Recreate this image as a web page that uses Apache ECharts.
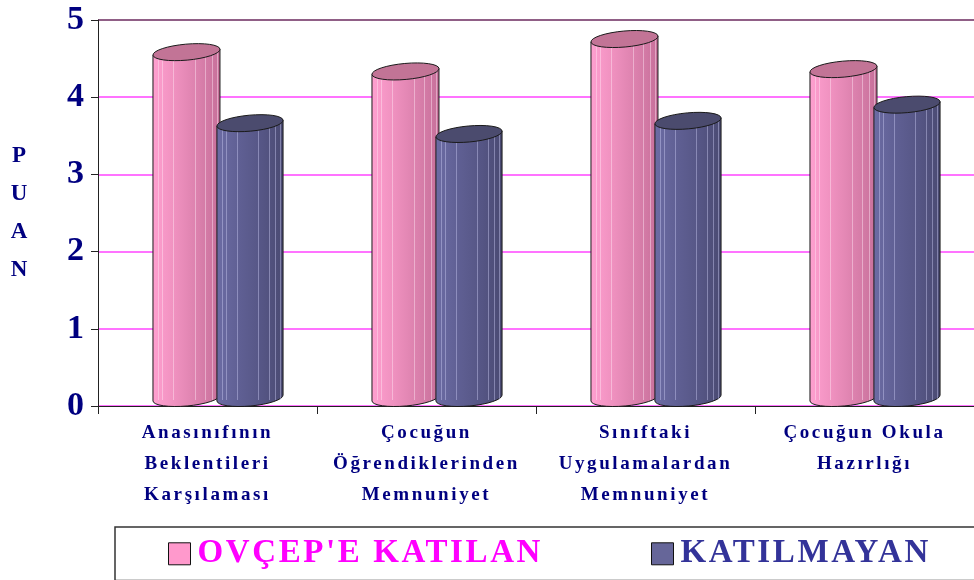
<!DOCTYPE html>
<html><head><meta charset="utf-8">
<script src="https://cdn.jsdelivr.net/npm/echarts@6/dist/echarts.min.js"></script>
<style>html,body{margin:0;padding:0;background:#fff}#c{width:974px;height:580px}</style>
</head><body><div id="c"></div>
<script>
var categories = ['Anasınıfının\nBeklentileri\nKarşılaması', 'Çocuğun\nÖğrendiklerinden\nMemnuniyet', 'Sınıftaki\nUygulamalardan\nMemnuniyet', 'Çocuğun Okula\nHazırlığı'];
var seriesNames = ["OVÇEP'E KATILAN", 'KATILMAYAN'];
var katilan = [4.48, 4.23, 4.65, 4.26];
var katilmayan = [3.56, 3.42, 3.59, 3.80];
var yTicks = [0, 1, 2, 3, 4, 5];

// widen letter spacing of the category and legend texts (the reference uses spaced type)
(function () {
  var proto = window.CanvasRenderingContext2D && CanvasRenderingContext2D.prototype;
  if (!proto) return;
  var desc = Object.getOwnPropertyDescriptor(proto, 'font');
  if (!desc || !('letterSpacing' in proto)) return;
  Object.defineProperty(proto, 'font', {
    configurable: true,
    get: function () { return desc.get.call(this); },
    set: function (v) {
      desc.set.call(this, v);
      var m = /(\d+(?:\.\d+)?)px/.exec(v || '');
      var sz = m ? parseFloat(m[1]) : 0;
      var ls = '0px';
      if (sz === 19) ls = '2.6px';
      else if (sz === 33) ls = '2.6px';
      try { this.letterSpacing = ls; } catch (e) {}
    }
  });
})();

var FONT = '"Liberation Serif", "Times New Roman", serif';
var NAVY = '#000080';

var styles = [
  {off: -0.249, w: 0.306, body: ['#ffa0d0', '#ee90be', '#d97fab', '#c66f99'], top: '#c27496', stripe: 'rgba(255,230,245,0.45)'},
  {off: 0.043, w: 0.302, body: ['#6c6ca4', '#5f5f93', '#555584', '#4a4a72'], top: '#4b4b6e', stripe: 'rgba(200,200,240,0.45)'}
];

function makeRender(si) {
  var st = styles[si];
  return function (params, api) {
    var cat = api.value(0), val = api.value(1);
    var topPt = api.coord([cat, val]);
    var basePt = api.coord([cat, 0]);
    var bw = api.size([1, 0])[0];
    var xL = topPt[0] + st.off * bw;
    var w = st.w * bw;
    var xR = xL + w;
    var ry = 8, tilt = 3;
    var c = topPt[1] - ry;
    var bc = basePt[1] - ry;
    var rx = Math.sqrt(w * w + 4 * tilt * tilt) / 2;
    var rot = Math.atan2(-2 * tilt, w) * 180 / Math.PI;
    var body = 'M' + xL + ',' + (c + tilt) + ' L' + xL + ',' + (bc + tilt) +
      ' A' + rx + ',' + ry + ' ' + rot + ' 0 0 ' + xR + ',' + (bc - tilt) +
      ' L' + xR + ',' + (c - tilt) + ' Z';
    var top = 'M' + xL + ',' + (c + tilt) +
      ' A' + rx + ',' + ry + ' ' + rot + ' 0 0 ' + xR + ',' + (c - tilt) +
      ' A' + rx + ',' + ry + ' ' + rot + ' 0 0 ' + xL + ',' + (c + tilt) + ' Z';
    var children = [{
      type: 'path', shape: {pathData: body},
      style: {
        fill: new echarts.graphic.LinearGradient(0, 0, 1, 0, [
          {offset: 0, color: st.body[0]}, {offset: 0.35, color: st.body[1]},
          {offset: 0.7, color: st.body[2]}, {offset: 1, color: st.body[3]}]),
        stroke: '#1a1a1a', lineWidth: 1
      }
    }];
    var fr = [0.07, 0.14, 0.3, 0.62, 0.78, 0.88, 0.95];
    for (var i = 0; i < fr.length; i++) {
      var x = Math.round(xL + fr[i] * w) + 0.5;
      var ty = c + tilt - 2 * tilt * fr[i] + 2;
      children.push({type: 'line', shape: {x1: x, y1: ty, x2: x, y2: bc + 2},
        style: {stroke: st.stripe, lineWidth: 1}, silent: true});
    }
    children.push({type: 'path', shape: {pathData: top},
      style: {fill: st.top, stroke: '#1a1a1a', lineWidth: 1}});
    return {type: 'group', children: children};
  };
}

function toData(arr) { return arr.map(function (v, i) { return [i, v]; }); }

var chart = echarts.init(document.getElementById('c'), null, {renderer: 'canvas'});
chart.setOption({
  animation: false,
  backgroundColor: '#ffffff',
  grid: {left: 98, right: 0, top: 20, bottom: 174, containLabel: false},
  xAxis: {
    type: 'category', data: categories,
    axisLine: {lineStyle: {color: '#222', width: 1}},
    axisTick: {show: true, length: 8, lineStyle: {color: '#222'}},
    axisLabel: {
      interval: 0, margin: 12, color: NAVY, fontFamily: FONT, fontWeight: 'bold',
      fontSize: 19, lineHeight: 31
    },
    splitLine: {show: false}
  },
  yAxis: {
    type: 'value', min: 0, max: 5, interval: 1,
    name: 'P\nU\nA\nN', nameLocation: 'middle', nameRotate: 0, nameGap: 79,
    nameTextStyle: {color: NAVY, fontFamily: FONT, fontWeight: 'bold', fontSize: 23, lineHeight: 38, align: 'center'},
    axisLine: {show: true, lineStyle: {color: '#222', width: 1}},
    axisTick: {show: true, length: 7, lineStyle: {color: '#222'}},
    axisLabel: {
      margin: 14, color: NAVY, fontFamily: FONT, fontWeight: 'bold', fontSize: 34,
      formatter: function (v) { return yTicks.indexOf(v) >= 0 ? String(v) : ''; }
    },
    splitLine: {show: true, lineStyle: {color: ['#ff44ff', '#ff44ff', '#ff44ff', '#ff44ff', '#ff44ff', '#6b2a5e'], width: 1.5}}
  },
  legend: {
    left: 115, top: 527, width: 1000, orient: 'horizontal',
    padding: [9, 50, 9, 53], itemGap: 108, itemWidth: 22, itemHeight: 22,
    borderColor: '#333', borderWidth: 1.5, backgroundColor: '#fff',
    icon: 'rect',
    itemStyle: {borderColor: '#111', borderWidth: 1},
    textStyle: {fontFamily: FONT, fontWeight: 'bold', fontSize: 33, padding: [0, 0, 0, 2]},
    data: [
      {name: seriesNames[0], textStyle: {color: '#ff00ff'}},
      {name: seriesNames[1], textStyle: {color: '#333399'}}
    ]
  },
  series: [
    {name: seriesNames[0], type: 'custom', renderItem: makeRender(0), data: toData(katilan),
      itemStyle: {color: '#ff99cc'}, encode: {x: 0, y: 1}, clip: false},
    {name: seriesNames[1], type: 'custom', renderItem: makeRender(1), data: toData(katilmayan),
      itemStyle: {color: '#666699'}, encode: {x: 0, y: 1}, clip: false}
  ]
});
</script></body></html>
